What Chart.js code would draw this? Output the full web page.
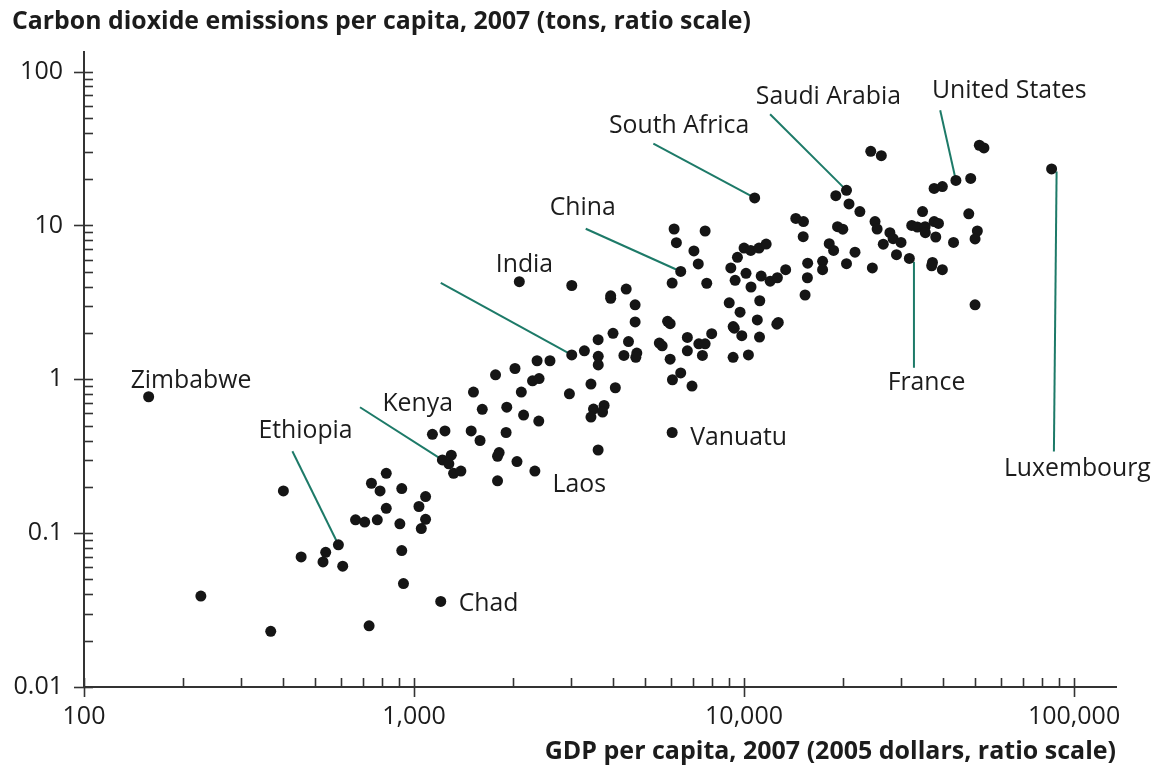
<!DOCTYPE html>
<html>
<head>
<meta charset="utf-8">
<title>Carbon dioxide emissions vs GDP per capita, 2007</title>
<script src="https://cdn.jsdelivr.net/npm/chart.js@4.4.1/dist/chart.umd.min.js"></script>
<style>
  html, body { margin: 0; padding: 0; background: #ffffff; }
  #wrap { width: 1152px; height: 771px; }
</style>
</head>
<body>
<div id="wrap"><canvas id="chart" width="1152" height="771"></canvas></div>
<script>
// Countries that carry a name on the chart; they are the first entries of the data arrays.
const labelNames = ['Zimbabwe', 'Ethiopia', 'Chad', 'Kenya', 'Laos', 'India', 'Vanuatu',
  'China', 'South Africa', 'Saudi Arabia', 'France', 'United States', 'Luxembourg'];

// GDP per capita, 2007 (2005 dollars)
const gdpPerCapita = [
  157, 590, 1205, 1219, 2324, 3006, 6056, 6429, 10770, 20440, 31690, 43850, 85500,
  226, 368, 402, 455, 530, 540, 608, 731, 929, 918, 665, 709, 774, 824, 906, 1035,
  1084, 1084, 1052, 918, 824, 743, 789, 1137, 1241, 1297, 1275, 1318, 1387, 1490,
  1585, 1610, 1910, 1901, 1811, 1791, 1791, 2051, 1514, 1766, 2023, 2114, 2148, 2388,
  2286, 2393, 2360, 2582, 2085, 3006, 3283, 3613, 3616, 3616, 2957, 3437, 4074, 3767,
  3498, 3727, 3437, 3613, 3944, 3944, 4395, 4677, 4677, 4009, 4466, 4325, 4733, 4700,
  5537, 5649, 5866, 5972, 5972, 6429, 6069, 6955, 6734, 7295, 7623, 6734, 7480, 7979,
  6056, 7267, 7709, 6139, 7623, 6238, 7049, 9018, 9727, 10970, 12700, 12570, 9270,
  9340, 9845, 11140, 9265, 10310, 11160, 10500, 9397, 10140, 11270, 12000, 12620,
  13370, 9120, 9550, 10000, 10480, 11100, 11670, 15310, 15560, 15590, 14350, 15140,
  15110, 17300, 17300, 18120, 18680, 19200, 19920, 20440, 21690, 24480, 18970, 20800,
  22440, 24210, 26060, 24940, 25310, 27670, 28300, 29900, 26420, 28970, 34750, 32220,
  33500, 35380, 35430, 37670, 38830, 38100, 43130, 37240, 37040, 39900, 37670, 39900,
  48620, 51640, 53330, 47970, 50930, 50120, 50120
];

// Carbon dioxide emissions per capita, 2007 (tons)
const co2PerCapita = [
  0.77, 0.084, 0.036, 0.299, 0.253, 1.44, 0.451, 5.02, 15.1, 16.9, 6.10, 19.6, 23.3,
  0.039, 0.023, 0.188, 0.070, 0.065, 0.075, 0.061, 0.025, 0.047, 0.077, 0.122, 0.118,
  0.122, 0.145, 0.115, 0.149, 0.173, 0.123, 0.107, 0.195, 0.245, 0.211, 0.188, 0.439,
  0.462, 0.321, 0.282, 0.245, 0.253, 0.462, 0.400, 0.638, 0.659, 0.451, 0.334, 0.316,
  0.219, 0.292, 0.826, 1.07, 1.175, 0.826, 0.585, 0.535, 0.977, 1.01, 1.32, 1.32,
  4.31, 4.07, 1.53, 1.81, 1.41, 1.24, 0.805, 0.931, 0.881, 0.676, 0.640, 0.612, 0.568,
  0.347, 3.49, 3.36, 3.86, 3.05, 2.36, 1.99, 1.76, 1.43, 1.48, 1.39, 1.72, 1.65, 2.38,
  2.30, 1.35, 1.10, 0.993, 0.903, 1.87, 1.70, 1.70, 1.53, 1.43, 1.98, 4.22, 5.62,
  4.21, 9.48, 9.20, 7.73, 6.83, 3.14, 2.73, 2.43, 2.34, 2.28, 2.20, 2.15, 1.92, 1.88,
  1.39, 1.44, 3.24, 3.98, 4.40, 4.88, 4.69, 4.34, 4.57, 5.16, 5.29, 6.20, 7.13, 6.88,
  7.13, 7.57, 3.53, 4.57, 5.68, 11.1, 10.6, 8.45, 5.84, 5.16, 7.61, 6.88, 9.82, 9.46,
  5.64, 6.70, 5.29, 15.6, 13.8, 12.3, 30.3, 28.4, 10.6, 9.48, 8.97, 8.20, 7.76, 7.55,
  6.45, 12.3, 10.0, 9.77, 9.82, 8.97, 10.6, 10.3, 8.41, 7.76, 5.75, 5.47, 5.16, 17.4,
  17.9, 20.2, 33.2, 31.9, 11.9, 9.20, 8.17, 3.05
];

// Axis tick values and their printed labels
const xTickValues = [100, 1000, 10000, 100000];
const xTickLabels = ['100', '1,000', '10,000', '100,000'];
const yTickValues = [0.01, 0.1, 1, 10, 100];
const yTickLabels = ['0.01', '0.1', '1', '10', '100'];

// Placement of each country name relative to its dot (pixels):
// text = [dx, dy] of the text's left baseline, line = [x1, y1, x2, y2] of the leader.
const noteLayout = {
  'Zimbabwe':      { text: [-18, -8.5] },
  'Ethiopia':      { text: [-80, -107], line: [-46, -93.6, 0, 0] },
  'Chad':          { text: [18, 10] },
  'Kenya':         { text: [-60, -49], line: [-82.4, -52.7, 0, 0] },
  'Laos':          { text: [17.7, 20.4] },
  'India':         { text: [-76, -82.6], line: [-131, -72, 0, 0] },
  'Vanuatu':       { text: [18, 12.3] },
  'China':         { text: [-131, -56.7], line: [-95, -42.7, 0, 0] },
  'South Africa':  { text: [-145.7, -65], line: [-101.3, -54.3, 0, 0] },
  'Saudi Arabia':  { text: [-90.7, -86.5], line: [-76.4, -76.2, 0, 0] },
  'France':        { text: [-21.7, 132], line: [4.6, 3.3, 4.6, 109.3] },
  'United States': { text: [-24, -82], line: [-15.7, -70.3, 0, 0] },
  'Luxembourg':    { text: [-47.7, 306.7], line: [5, 2.7, 2.3, 282.7] }
};

const FONT = '"Open Sans", "Noto Sans", "DejaVu Sans", sans-serif';
const INK = '#1c1c1c';
const AXIS = '#333333';
const LEADER = '#1d7a68';

function labelFor(values, labels) {
  return function (v) {
    for (let i = 0; i < values.length; i++) {
      if (Math.abs(Math.log10(v) - Math.log10(values[i])) < 1e-6) return labels[i];
    }
    return '';
  };
}

// Leader lines under the dots, country names over them, and the ratio-scale tick marks.
const countryNotes = {
  id: 'countryNotes',
  beforeDatasetsDraw(chart) {
    const { ctx, scales: { x, y } } = chart;
    ctx.save();
    ctx.strokeStyle = LEADER;
    ctx.lineWidth = 2;
    labelNames.forEach((name, i) => {
      const lay = noteLayout[name];
      if (!lay || !lay.line) return;
      const px = x.getPixelForValue(gdpPerCapita[i]);
      const py = y.getPixelForValue(co2PerCapita[i]);
      ctx.beginPath();
      ctx.moveTo(px + lay.line[0], py + lay.line[1]);
      ctx.lineTo(px + lay.line[2], py + lay.line[3]);
      ctx.stroke();
    });
    ctx.restore();
  },
  afterDatasetsDraw(chart) {
    const { ctx, scales: { x, y } } = chart;
    ctx.save();
    ctx.fillStyle = INK;
    ctx.font = '24.8px ' + FONT;
    ctx.textAlign = 'left';
    ctx.textBaseline = 'alphabetic';
    labelNames.forEach((name, i) => {
      const lay = noteLayout[name];
      const px = x.getPixelForValue(gdpPerCapita[i]);
      const py = y.getPixelForValue(co2PerCapita[i]);
      ctx.fillText(name, px + lay.text[0], py + lay.text[1]);
    });
    ctx.restore();
  },
  afterDraw(chart) {
    const { ctx, scales: { x, y }, chartArea } = chart;
    ctx.save();
    ctx.strokeStyle = AXIS;
    ctx.lineWidth = 1.6;
    const left = chartArea.left, bottom = chartArea.bottom;
    for (let e = -2; e <= 2; e++) {
      for (let k = 1; k <= 9; k++) {
        const v = k * Math.pow(10, e);
        if (v > y.max + 1e-9) break;
        const p = Math.round(y.getPixelForValue(v)) + 0.5;
        ctx.beginPath();
        ctx.moveTo(k === 1 ? left - 10 : left, p);
        ctx.lineTo(left + 9, p);
        ctx.stroke();
      }
    }
    for (let e = 2; e <= 5; e++) {
      for (let k = 1; k <= 9; k++) {
        const v = k * Math.pow(10, e);
        if (v > x.max + 1e-9) break;
        const p = Math.round(x.getPixelForValue(v)) + 0.5;
        ctx.beginPath();
        ctx.moveTo(p, k === 1 ? bottom + 10 : bottom);
        ctx.lineTo(p, bottom - 9);
        ctx.stroke();
      }
    }
    ctx.restore();
  }
};

new Chart(document.getElementById('chart'), {
  type: 'scatter',
  data: {
    datasets: [{
      data: gdpPerCapita.map((g, i) => ({ x: g, y: co2PerCapita[i] })),
      backgroundColor: '#151515',
      borderWidth: 0,
      pointRadius: 5.5,
      pointHoverRadius: 5.5
    }]
  },
  options: {
    responsive: false,
    devicePixelRatio: 1,
    animation: false,
    events: [],
    layout: { padding: { left: 12, right: 36, top: 0, bottom: 0 } },
    plugins: {
      legend: { display: false },
      tooltip: { enabled: false },
      title: {
        display: true,
        text: 'Carbon dioxide emissions per capita, 2007 (tons, ratio scale)',
        align: 'start',
        color: INK,
        font: { family: FONT, size: 24.85, weight: 'bold', lineHeight: 1.2 },
        padding: { top: 7.1, bottom: 15.1 }
      }
    },
    scales: {
      x: {
        type: 'logarithmic',
        position: 'bottom',
        min: 100,
        max: 134000,
        grid: { display: false, drawTicks: false },
        border: { display: true, color: AXIS, width: 2 },
        ticks: {
          autoSkip: false,
          maxRotation: 0,
          padding: 15,
          color: INK,
          font: { family: FONT, size: 25, lineHeight: 1.2 },
          callback: labelFor(xTickValues, xTickLabels)
        },
        title: {
          display: true,
          text: 'GDP per capita, 2007 (2005 dollars, ratio scale)',
          align: 'end',
          color: INK,
          font: { family: FONT, size: 25, weight: 'bold', lineHeight: 1.2 },
          padding: { top: 0, bottom: 4 }
        },
        afterFit(scale) { scale.height = 84; }
      },
      y: {
        type: 'logarithmic',
        position: 'left',
        min: 0.01,
        max: 134,
        grid: { display: false, drawTicks: false },
        border: { display: true, color: AXIS, width: 2 },
        ticks: {
          autoSkip: false,
          padding: 21,
          color: INK,
          font: { family: FONT, size: 25, lineHeight: 1.2 },
          callback: labelFor(yTickValues, yTickLabels)
        },
        afterFit(scale) { scale.width = 72; }
      }
    }
  },
  plugins: [countryNotes]
});
</script>
</body>
</html>
